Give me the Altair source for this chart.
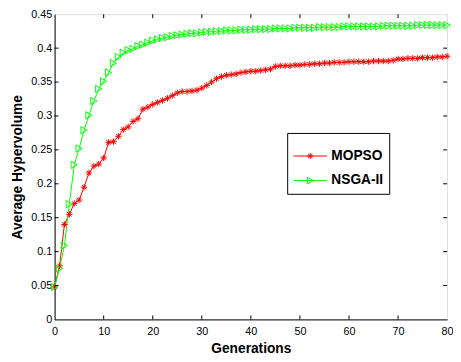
import altair as alt
import pandas as pd

generations = list(range(81))
mopso = [
    0.048, 0.079, 0.140, 0.155, 0.171, 0.176, 0.195, 0.216, 0.226, 0.229,
    0.238, 0.261, 0.262, 0.270, 0.280, 0.284, 0.292, 0.296, 0.310, 0.313,
    0.317, 0.320, 0.323, 0.326, 0.330, 0.334, 0.336, 0.336, 0.337, 0.338,
    0.341, 0.345, 0.350, 0.355, 0.358, 0.360, 0.361, 0.362, 0.364, 0.365,
    0.366, 0.366, 0.367, 0.368, 0.369, 0.373, 0.374, 0.374, 0.374, 0.375,
    0.375, 0.376, 0.376, 0.377, 0.377, 0.378, 0.378, 0.379, 0.379, 0.379,
    0.380, 0.380, 0.380, 0.380, 0.380, 0.381, 0.381, 0.381, 0.381, 0.382,
    0.384, 0.384, 0.385, 0.385, 0.385, 0.386, 0.386, 0.386, 0.387, 0.387,
    0.388,
]
nsga2 = [
    0.048, 0.075, 0.109, 0.170, 0.228, 0.252, 0.279, 0.301, 0.322, 0.340,
    0.351, 0.364, 0.378, 0.387, 0.393, 0.397, 0.399, 0.403, 0.405, 0.408,
    0.411, 0.413, 0.415, 0.416, 0.418, 0.419, 0.420, 0.421, 0.422, 0.422,
    0.423, 0.424, 0.424, 0.425, 0.425, 0.426, 0.426, 0.426, 0.427, 0.427,
    0.427, 0.428, 0.428, 0.428, 0.428, 0.429, 0.429, 0.429, 0.429, 0.430,
    0.430, 0.430, 0.430, 0.430, 0.431, 0.431, 0.431, 0.431, 0.431, 0.432,
    0.432, 0.432, 0.432, 0.432, 0.432, 0.432, 0.432, 0.433, 0.433, 0.433,
    0.433, 0.433, 0.433, 0.433, 0.434, 0.434, 0.434, 0.434, 0.434, 0.434,
    0.434,
]
series_names = ["MOPSO", "NSGA-II"]
series_colors = ["#ff0000", "#00ff00"]
x_ticks = [0, 10, 20, 30, 40, 50, 60, 70, 80]
y_ticks = [0, 0.05, 0.1, 0.15, 0.2, 0.25, 0.3, 0.35, 0.4, 0.45]

W, H = 400, 311

df = pd.DataFrame({
    "gen": generations * 2,
    "value": mopso + nsga2,
    "series": [series_names[0]] * len(generations) + [series_names[1]] * len(generations),
})
df_m = df[df.series == "MOPSO"]
df_n = df[df.series == "NSGA-II"]

STAR = "M-1,0L1,0M0,-1L0,1M-0.7,-0.7L0.7,0.7M-0.7,0.7L0.7,-0.7"
LEG_STAR = "M-1,0L1,0M-0.18,0L0.18,0M0,-0.18L0,0.18M-0.13,-0.13L0.13,0.13M-0.13,0.13L0.13,-0.13"
LEG_TRI = "M-1,0L1,0M-0.17,-0.2L0.2,0L-0.17,0.2Z"

xs = alt.Scale(domain=[0, 80], nice=False)
ys = alt.Scale(domain=[0, 0.45], nice=False)

xaxis = alt.Axis(
    title="Generations", values=x_ticks, ticks=False, grid=False,
    labelFont="Liberation Sans", labelFontSize=11, labelColor="black", labelPadding=6,
    labelOverlap=False,
    titleFont="Liberation Sans", titleFontSize=14, titleFontWeight="bold", titleColor="black",
    titlePadding=6, domainColor="black", labelFlush=False)
yaxis = alt.Axis(
    title="Average Hypervolume", values=y_ticks, format="~f", ticks=False, grid=False,
    labelFont="Liberation Sans", labelFontSize=11, labelColor="black", labelPadding=3,
    labelOverlap=False,
    titleFont="Liberation Sans", titleFontSize=14, titleFontWeight="bold", titleColor="black",
    titlePadding=6, domainColor="black", labelFlush=False)


def XE(field):
    return alt.X(field, type="quantitative", scale=xs, axis=xaxis)


def YE(field):
    return alt.Y(field, type="quantitative", scale=ys, axis=yaxis)


line_m = alt.Chart(df_m).mark_line(color="#ff0000", strokeWidth=1).encode(x=XE("gen"), y=YE("value"))
pts_m = alt.Chart(df_m).mark_point(shape=STAR, size=42, filled=False, color="#ff0000",
                                   strokeWidth=1, opacity=1).encode(x=XE("gen"), y=YE("value"))
line_n = alt.Chart(df_n).mark_line(color="#00ff00", strokeWidth=1).encode(x=XE("gen"), y=YE("value"))
pts_n = alt.Chart(df_n).mark_point(shape="triangle-right", size=55, filled=False, color="#00ff00",
                                   strokeWidth=1, opacity=1).encode(x=XE("gen"), y=YE("value"))

leg = alt.Legend(title=None, orient="none", legendX=237, legendY=121,
                 fillColor="white", strokeColor="black", padding=6,
                 symbolSize=1156, symbolStrokeWidth=1, symbolOpacity=1,
                 labelFont="Liberation Sans", labelFontSize=14, labelFontWeight="bold",
                 labelColor="black", labelOffset=4, rowPadding=-5.5, cornerRadius=0)
legend_layer = alt.Chart(df).mark_point(filled=False, opacity=0).encode(
    x=XE("gen"), y=YE("value"),
    color=alt.Color("series:N", scale=alt.Scale(domain=series_names, range=series_colors), legend=leg),
    shape=alt.Shape("series:N", scale=alt.Scale(domain=series_names, range=[LEG_STAR, LEG_TRI]), legend=leg),
)

xt = pd.DataFrame({"t": x_ticks[1:-1]})
yt = pd.DataFrame({"t": y_ticks[1:-1]})
tick_b = alt.Chart(xt).mark_rule(color="black", strokeWidth=1).encode(
    x=XE("t"), y=alt.value(H), y2=alt.value(H - 4))
tick_t = alt.Chart(xt).mark_rule(color="black", strokeWidth=1).encode(
    x=XE("t"), y=alt.value(0), y2=alt.value(4))
tick_l = alt.Chart(yt).mark_rule(color="black", strokeWidth=1).encode(
    y=YE("t"), x=alt.value(0), x2=alt.value(4))
tick_r = alt.Chart(yt).mark_rule(color="black", strokeWidth=1).encode(
    y=YE("t"), x=alt.value(W - 4), x2=alt.value(W))

chart = alt.layer(
    line_m, line_n, pts_m, pts_n, legend_layer, tick_b, tick_t, tick_l, tick_r
).properties(
    width=W, height=H,
    padding={"left": 47.5, "top": 3, "right": 6, "bottom": 38},
    autosize=alt.AutoSizeParams(type="none"),
).configure_view(stroke="black", strokeWidth=1).configure(background="white")

chart.save("out.html", embed_options={"renderer": "svg", "actions": False})
